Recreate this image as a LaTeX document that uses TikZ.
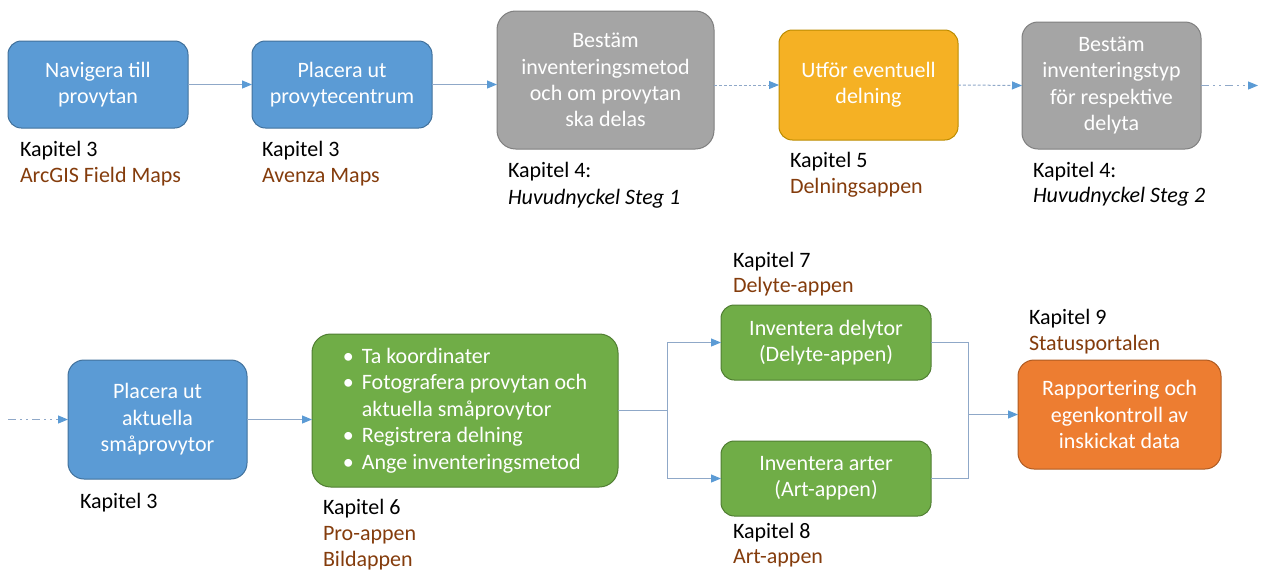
\documentclass[tikz,border=0pt]{standalone}
\usepackage{fontspec}
\setmainfont{Carlito}
\usetikzlibrary{arrows.meta}
\definecolor{bluefill}{HTML}{5B9BD5}
\definecolor{blueline}{HTML}{41719C}
\definecolor{grayfill}{HTML}{A5A5A5}
\definecolor{grayline}{HTML}{7F7F7F}
\definecolor{goldfill}{HTML}{F5B124}
\definecolor{goldline}{HTML}{BC8C00}
\definecolor{greenfill}{HTML}{70AD47}
\definecolor{greenline}{HTML}{507E32}
\definecolor{orangefill}{HTML}{ED7D31}
\definecolor{orangeline}{HTML}{AE5A21}
\definecolor{apptext}{HTML}{843C0C}
\definecolor{connector}{HTML}{8FA8C8}
\definecolor{tipcolor}{HTML}{5B9BD5}
\newcommand{\bul}{\makebox[14.25pt][l]{•}}
\newcommand{\bulindent}{\hspace*{14.25pt}}
\begin{document}
\begin{tikzpicture}[x=0.75pt,y=-0.75pt,
  font=\fontsize{16.5}{19.8}\selectfont,
  box/.style={rounded corners=10pt,line width=0.75pt,inner sep=0pt,outer sep=0pt,
    text=white,align=center},
  bluebox/.style={box,fill=bluefill,draw=blueline},
  graybox/.style={box,fill=grayfill,draw=grayline},
  goldbox/.style={box,fill=goldfill,draw=goldline},
  greenbox/.style={box,fill=greenfill,draw=greenline},
  orangebox/.style={box,fill=orangefill,draw=orangeline},
  lbl/.style={anchor=base west,inner sep=0pt,outer sep=0pt},
  app/.style={lbl,text=apptext},
  conn/.style={draw=connector,line width=0.75pt},
  arr/.style={conn,-{Triangle[length=7.5pt,width=6pt,color=tipcolor]}},
  dotline/.style={arr,dash pattern=on 2.2pt off 1.5pt},
  dashdot/.style={arr,dash pattern=on 6pt off 3pt on 1.5pt off 3pt on 1.5pt off 3pt}
]
\useasboundingbox (0,0) rectangle (1262,572);

% ---- first row ----
\node[bluebox,minimum width=135pt,minimum height=65.25pt] (nav) at (98,84.5)
  {Navigera till\\provytan};
\node[bluebox,minimum width=135pt,minimum height=65.25pt] (plac) at (342,84.5)
  {Placera ut\\provytecentrum};
\node[graybox,rounded corners=14pt,minimum width=162.75pt,minimum height=103.5pt] (metod) at (605.5,80)
  {Bestäm\\inventeringsmetod\\och om provytan\\ska delas};
\node[goldbox,minimum width=134.25pt,minimum height=82.5pt] (deln) at (868.5,85)
  {Utför eventuell\\delning};
\node[graybox,rounded corners=12pt,minimum width=134.25pt,minimum height=95.25pt] (typ) at (1111.5,85.5)
  {Bestäm\\inventeringstyp\\för respektive\\delyta};
\coordinate (out) at (1258,85.5);

\draw[arr] (nav.east) -- (plac.west);
\draw[arr] (plac.east) -- (plac.east -| metod.west);
\draw[dotline] (deln.west -| metod.east) -- (deln.west);
\draw[dotline] (deln.east) -- (typ.west);
\draw[dashdot] (typ.east) -- (out);

\node[lbl] (k1) at (20,156) {Kapitel 3};
\node[app] (a1) at (20,182) {ArcGIS Field Maps};
\node[lbl] (k2) at (262,156) {Kapitel 3};
\node[app] (a2) at (262,182) {Avenza Maps};
\node[lbl] (k3) at (508,177) {Kapitel 4:};
\node[lbl] (h1) at (508,204) {\itshape Huvudnyckel Steg 1};
\node[lbl] (k4) at (790,167) {Kapitel 5};
\node[app] (a4) at (790,193) {Delningsappen};
\node[lbl] (k5) at (1033,177) {Kapitel 4:};
\node[lbl] (h2) at (1033,202) {\itshape Huvudnyckel Steg 2};

% ---- second row ----
\coordinate (in) at (8,419.5);
\node[bluebox,rounded corners=12pt,minimum width=134.25pt,minimum height=89.25pt] (sma) at (157.5,419.5)
  {Placera ut\\aktuella\\småprovytor};
\node[greenbox,rounded corners=14pt,minimum width=229.5pt,minimum height=114.75pt,align=left] (pro) at (465,410.5)
  {\bul Ta koordinater\\
   \bul Fotografera provytan och\\
   \bulindent aktuella småprovytor\\
   \bul Registrera delning\\
   \bul Ange inventeringsmetod};
\node[greenbox,minimum width=157.5pt,minimum height=56.25pt] (delyta) at (826,342.5)
  {Inventera delytor\\(Delyte-appen)};
\node[greenbox,minimum width=157.5pt,minimum height=56.25pt] (arter) at (826,478.5)
  {Inventera arter\\(Art-appen)};
\node[orangebox,rounded corners=12pt,minimum width=152.25pt,minimum height=81.75pt] (rapp) at (1119.5,414.5)
  {Rapportering och\\egenkontroll av\\inskickat data};

\coordinate (fork) at (667,410.5);
\coordinate (join) at (968,414.5);

\draw[dashdot] (in) -- (sma.west);
\draw[arr] (sma.east) -- (sma.east -| pro.west);
\draw[conn] (pro.east) -- (fork);
\draw[arr] (fork) |- (delyta.west);
\draw[arr] (fork) |- (arter.west);
\draw[conn] (delyta.east) -| (join);
\draw[conn] (arter.east) -| (join);
\draw[arr] (join) -- (rapp.west);

\node[lbl] (k6) at (80,508) {Kapitel 3};
\node[lbl] (k7) at (323,514) {Kapitel 6};
\node[app] (a7) at (323,540) {Pro-appen};
\node[app] (b7) at (323,566) {Bildappen};
\node[lbl] (k8) at (733,267) {Kapitel 7};
\node[app] (a8) at (733,292) {Delyte-appen};
\node[lbl] (k9) at (733,538) {Kapitel 8};
\node[app] (a9) at (733,563) {Art-appen};
\node[lbl] (k10) at (1029,324) {Kapitel 9};
\node[app] (a10) at (1029,350) {Statusportalen};
\end{tikzpicture}
\end{document}
